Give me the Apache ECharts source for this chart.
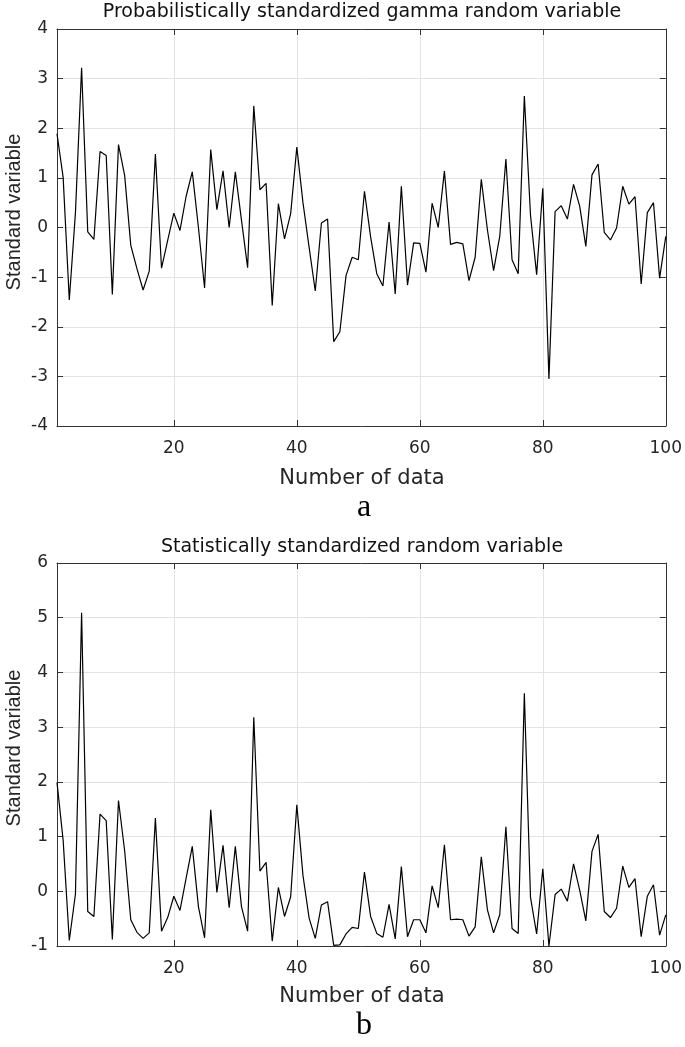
<!DOCTYPE html>
<html>
<head>
<meta charset="utf-8">
<script src="https://cdn.jsdelivr.net/npm/echarts@6/dist/echarts.min.js"></script>
<style>
html,body{margin:0;padding:0;background:#fff;}
#main{width:685px;height:1047px;}
</style>
</head>
<body>
<div id="main"></div>
<script>
// ---- data ----
const titleA = 'Probabilistically standardized gamma random variable';
const titleB = 'Statistically standardized random variable';
const xName = 'Number of data';
const yName = 'Standard variable';
const xTicks = [20, 40, 60, 80, 100];

const gammaStd = [
  1.89, 1.01, -1.46, 0.30, 3.22, -0.09, -0.24, 1.53, 1.45, -1.35,
  1.67, 1.05, -0.36, -0.83, -1.26, -0.88, 1.48, -0.82, -0.26, 0.29,
  -0.06, 0.63, 1.12, 0.00, -1.22, 1.57, 0.36, 1.14, 0.00, 1.12,
  0.15, -0.81, 2.45, 0.76, 0.89, -1.57, 0.48, -0.23, 0.28, 1.62,
  0.50, -0.40, -1.28, 0.09, 0.17, -2.30, -2.10, -0.97, -0.60, -0.65,
  0.73, -0.19, -0.93, -1.18, 0.11, -1.34, 0.83, -1.16, -0.31, -0.32,
  -0.90, 0.49, 0.00, 1.14, -0.34, -0.30, -0.33, -1.07, -0.60, 0.97,
  -0.05, -0.87, -0.18, 1.38, -0.65, -0.93, 2.65, 0.25, -0.95, 0.79,
  -3.05, 0.32, 0.44, 0.17, 0.87, 0.43, -0.38, 1.06, 1.28, -0.10,
  -0.25, -0.01, 0.83, 0.47, 0.62, -1.14, 0.30, 0.50, -1.02, -0.18
];

const statStd = [
  1.99, 0.93, -0.90, -0.05, 5.09, -0.37, -0.46, 1.41, 1.29, -0.88,
  1.66, 0.74, -0.52, -0.75, -0.86, -0.76, 1.34, -0.73, -0.48, -0.09,
  -0.35, 0.24, 0.82, -0.28, -0.85, 1.49, -0.02, 0.84, -0.30, 0.82,
  -0.28, -0.73, 3.18, 0.37, 0.53, -0.91, 0.07, -0.46, -0.10, 1.58,
  0.29, -0.49, -0.86, -0.25, -0.19, -0.99, -0.98, -0.78, -0.66, -0.68,
  0.35, -0.46, -0.77, -0.84, -0.24, -0.87, 0.45, -0.83, -0.52, -0.52,
  -0.76, 0.10, -0.30, 0.85, -0.52, -0.51, -0.52, -0.82, -0.65, 0.63,
  -0.34, -0.76, -0.43, 1.18, -0.68, -0.77, 3.62, -0.11, -0.78, 0.41,
  -1.00, -0.06, 0.04, -0.18, 0.50, 0.02, -0.54, 0.73, 1.04, -0.37,
  -0.48, -0.31, 0.46, 0.07, 0.23, -0.83, -0.09, 0.12, -0.80, -0.43
];

// ---- build ----
const toPairs = arr => arr.map((v, i) => [i + 1, v]);

const axisColor = '#333333';
const textColor = '#262626';
const gridColor = '#e3e3e3';
const sansFont = 'DejaVu Sans';

function xAxes(gridIndex) {
  return [
    {
      gridIndex, type: 'value', min: 1, max: 100, position: 'bottom',
      axisLine: { show: true, onZero: false, lineStyle: { color: axisColor, width: 1 } },
      axisTick: { show: true, inside: true, length: 6, customValues: xTicks, lineStyle: { color: axisColor } },
      axisLabel: { show: true, customValues: xTicks, color: textColor, fontSize: 17, fontFamily: sansFont, margin: 14, showMinLabel: true, showMaxLabel: true },
      splitLine: { show: true, lineStyle: { color: gridColor, width: 1 } }
    },
    {
      gridIndex, type: 'value', min: 1, max: 100, position: 'top',
      axisLine: { show: true, onZero: false, lineStyle: { color: axisColor, width: 1 } },
      axisTick: { show: true, inside: true, length: 6, customValues: xTicks, lineStyle: { color: axisColor } },
      axisLabel: { show: false },
      splitLine: { show: false }
    }
  ];
}

function yAxes(gridIndex, min, max) {
  return [
    {
      gridIndex, type: 'value', min, max, interval: 1, position: 'left',
      axisLine: { show: true, onZero: false, lineStyle: { color: axisColor, width: 1 } },
      axisTick: { show: true, inside: true, length: 6, lineStyle: { color: axisColor } },
      axisLabel: { color: textColor, fontSize: 17, fontFamily: sansFont, margin: 9 },
      splitLine: { show: true, lineStyle: { color: gridColor, width: 1 } }
    },
    {
      gridIndex, type: 'value', min, max, interval: 1, position: 'right',
      axisLine: { show: true, onZero: false, lineStyle: { color: axisColor, width: 1 } },
      axisTick: { show: true, inside: true, length: 6, lineStyle: { color: axisColor } },
      axisLabel: { show: false },
      splitLine: { show: false }
    }
  ];
}

const chart = echarts.init(document.getElementById('main'), null, { renderer: 'canvas' });

const option = {
  backgroundColor: '#fff',
  animation: false,
  grid: [
    { left: 57, right: 18, top: 29, height: 397 },
    { left: 57, right: 18, top: 563, height: 383 }
  ],
  xAxis: [...xAxes(0), ...xAxes(1)],
  yAxis: [...yAxes(0, -4, 4), ...yAxes(1, -1, 6)],
  series: [
    {
      type: 'line', xAxisIndex: 0, yAxisIndex: 0, data: toPairs(gammaStd),
      showSymbol: false, symbol: 'none', lineStyle: { color: '#000', width: 1.2 }, clip: true
    },
    {
      type: 'line', xAxisIndex: 2, yAxisIndex: 2, data: toPairs(statStd),
      showSymbol: false, symbol: 'none', lineStyle: { color: '#000', width: 1.2 }, clip: true
    }
  ],
  graphic: [
    { type: 'text', x: 362, y: 12, style: { text: titleA, font: '19px "DejaVu Sans"', fill: '#111', align: 'center', verticalAlign: 'middle' } },
    { type: 'text', x: 362, y: 547, style: { text: titleB, font: '19px "DejaVu Sans"', fill: '#111', align: 'center', verticalAlign: 'middle' } },
    { type: 'text', x: 362, y: 479, style: { text: xName, font: '21px "DejaVu Sans"', fill: textColor, align: 'center', verticalAlign: 'middle' } },
    { type: 'text', x: 362, y: 997, style: { text: xName, font: '21px "DejaVu Sans"', fill: textColor, align: 'center', verticalAlign: 'middle' } },
    { type: 'text', x: 14, y: 212, rotation: Math.PI / 2, style: { text: yName, font: '20px "Liberation Sans"', fill: textColor, align: 'center', verticalAlign: 'middle' } },
    { type: 'text', x: 14, y: 748, rotation: Math.PI / 2, style: { text: yName, font: '20px "Liberation Sans"', fill: textColor, align: 'center', verticalAlign: 'middle' } },
    { type: 'text', x: 364, y: 508, style: { text: 'a', font: '32px "Liberation Serif"', fill: '#000', align: 'center', verticalAlign: 'middle' } },
    { type: 'text', x: 364, y: 1026, style: { text: 'b', font: '32px "Liberation Serif"', fill: '#000', align: 'center', verticalAlign: 'middle' } }
  ]
};

chart.setOption(option);
</script>
</body>
</html>
